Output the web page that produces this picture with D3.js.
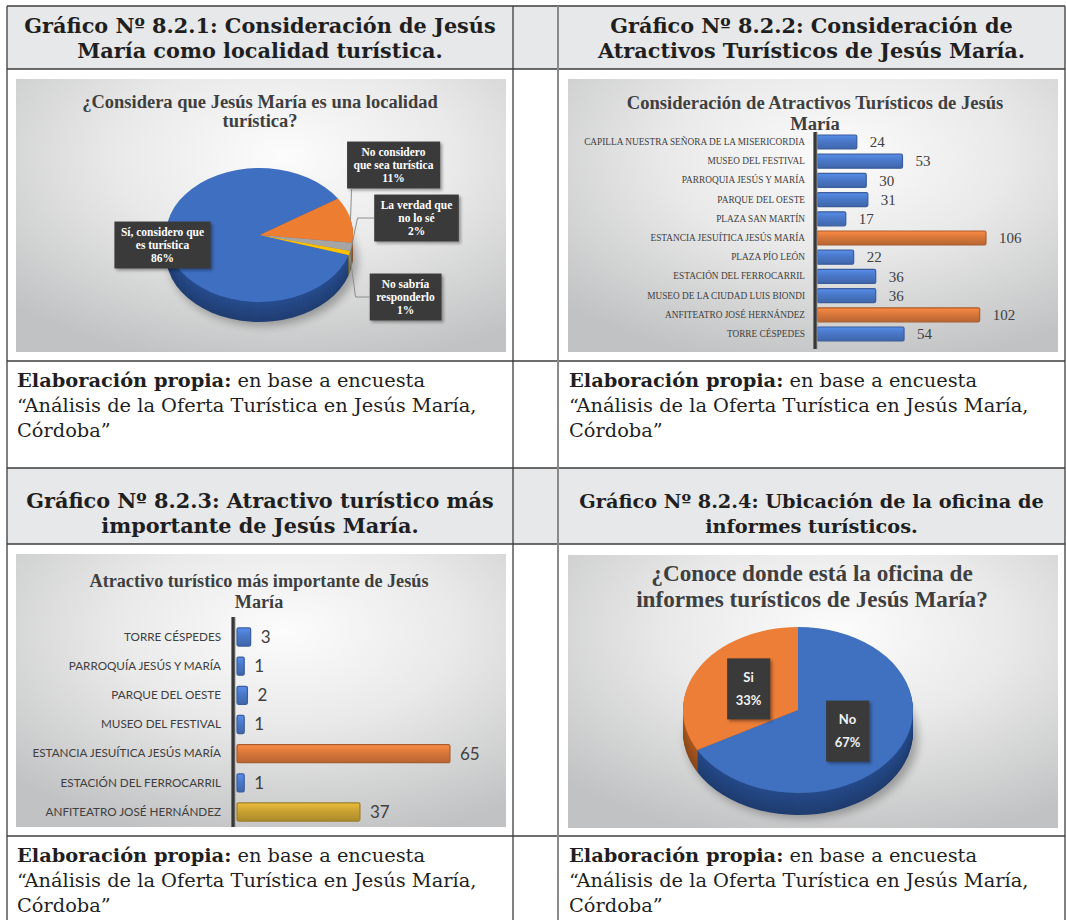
<!DOCTYPE html>
<meta charset="utf-8">
<title>Gráficos 8.2.1 a 8.2.4 - Jesús María</title>
<script src="https://cdn.jsdelivr.net/npm/d3@7"></script>
<style>
  body { margin: 0; background: #fff; }
  text { font-family: 'Liberation Serif', 'Times New Roman', serif; }
  text.head { font-family: 'DejaVu Serif', serif; font-weight: bold; font-size: 20.8px; fill: #1f1f1f; text-anchor: middle; }
  text.head.small { font-size: 19.3px; }
  text.src { font-family: 'DejaVu Serif', serif; font-size: 19.4px; fill: #1f1f1f; }
  text.ctitle { font-weight: bold; fill: #3f3f3f; text-anchor: middle; }
  text.box1 { font-weight: bold; font-size: 11.5px; fill: #fff; }
  text.box4 { font-family: Lato, 'Open Sans', sans-serif; font-weight: bold; font-size: 13px; fill: #f2f2f2; }
  text.cat2 { font-family: 'Liberation Serif', serif; font-size: 9.3px; fill: #404040; }
  text.val2 { font-size: 15px; fill: #404040; }
  text.cat3 { font-family: Lato, 'Open Sans', sans-serif; font-size: 11.7px; fill: #404040; }
  text.val3 { font-family: Lato, 'Open Sans', sans-serif; font-size: 17px; fill: #404040; }
</style>
<div id="chart"></div>
<script>

// ---- data ----
var headers = [
  ["Gráfico Nº 8.2.1: Consideración de Jesús", "María como localidad turística."],
  ["Gráfico Nº 8.2.2: Consideración de", "Atractivos Turísticos de Jesús María."],
  ["Gráfico Nº 8.2.3: Atractivo turístico más", "importante de Jesús María."],
  ["Gráfico Nº 8.2.4: Ubicación de la oficina de", "informes turísticos."]
];
var chartTitles = [
  ["¿Considera que Jesús María es una localidad", "turística?"],
  ["Consideración de Atractivos Turísticos de Jesús", "María"],
  ["Atractivo turístico más importante de Jesús", "María"],
  ["¿Conoce donde está la oficina de", "informes turísticos de Jesús María?"]
];
var sourceBold = "Elaboración propia:";
var sourceLines = [" en base a encuesta", "“Análisis de la Oferta Turística en Jesús María,", "Córdoba”"];

var pie1Labels = ["Sí, considero que\nes turística", "No considero\nque sea turística", "La verdad que\nno lo sé", "No sabría\nresponderlo"];
var pie1Values = [86, 11, 2, 1];

var bar2Categories = ["CAPILLA NUESTRA SEÑORA DE LA MISERICORDIA", "MUSEO DEL FESTIVAL", "PARROQUIA JESÚS Y MARÍA",
  "PARQUE DEL OESTE", "PLAZA SAN MARTÍN", "ESTANCIA JESUÍTICA JESÚS MARÍA", "PLAZA PÍO LEÓN",
  "ESTACIÓN DEL FERROCARRIL", "MUSEO DE LA CIUDAD LUIS BIONDI", "ANFITEATRO JOSÉ HERNÁNDEZ", "TORRE CÉSPEDES"];
var bar2Values = [24, 53, 30, 31, 17, 106, 22, 36, 36, 102, 54];

var bar3Categories = ["TORRE CÉSPEDES", "PARROQUÍA JESÚS Y MARÍA", "PARQUE DEL OESTE", "MUSEO DEL FESTIVAL",
  "ESTANCIA JESUÍTICA JESÚS MARÍA", "ESTACIÓN DEL FERROCARRIL", "ANFITEATRO JOSÉ HERNÁNDEZ"];
var bar3Values = [3, 1, 2, 1, 65, 1, 37];

var pie4Labels = ["No", "Si"];
var pie4Values = [67, 33];

// ---- styles ----
var pie1Colors = ["#3f6fc1", "#ed7d31", "#a5a5a5", "#ffc000"];
var pie1Sides  = ["#2a5196", "#b85a1e", "#7c7c7c", "#c49300"];
var pie4Colors = ["#4070c0", "#ec7e38"];
var pie4Sides  = ["#284f92", "#b45d22"];
var bar2Colors = ["#4a78c8", "#4a78c8", "#4a78c8", "#4a78c8", "#4a78c8", "#d8773b", "#4a78c8", "#4a78c8", "#4a78c8", "#d8773b", "#4a78c8"];
var bar3Colors = ["#4a78c8", "#4a78c8", "#4a78c8", "#4a78c8", "#d8773b", "#4a78c8", "#c9a232"];

// ---- layout ----
var colX = [7, 513, 558, 1065];
var rowY = [6, 69, 361, 468, 544, 836, 940];
var frames = [
  {x: 16, y: 79, w: 490, h: 273},
  {x: 568, y: 79, w: 490, h: 273},
  {x: 16, y: 554, w: 490, h: 273},
  {x: 568, y: 555, w: 490, h: 273}
];

var svg = d3.select("#chart").append("svg")
  .attr("width", 1066)
  .attr("height", 920);

var defs = svg.append("defs");

var bg = defs.append("radialGradient").attr("id", "bg")
  .attr("cx", "55%").attr("cy", "28%").attr("r", "78%");
bg.append("stop").attr("offset", "0%").attr("stop-color", "#fcfcfc");
bg.append("stop").attr("offset", "45%").attr("stop-color", "#e9e9e9");
bg.append("stop").attr("offset", "100%").attr("stop-color", "#c1c2c3");

var blur = defs.append("filter").attr("id", "blur")
  .attr("x", "-30%").attr("y", "-30%").attr("width", "160%").attr("height", "160%");
blur.append("feGaussianBlur").attr("stdDeviation", 4);

var soft = defs.append("filter").attr("id", "soft")
  .attr("x", "-30%").attr("y", "-30%").attr("width", "160%").attr("height", "160%");
soft.append("feGaussianBlur").attr("stdDeviation", 1.5);

function barGradient(c) {
  var id = "g" + c.replace("#", "");
  if (!defs.select("#" + id).empty()) return id;
  var g = defs.append("linearGradient").attr("id", id)
    .attr("x1", 0).attr("y1", 0).attr("x2", 0).attr("y2", 1);
  g.append("stop").attr("offset", "0%").attr("stop-color", d3.rgb(c).brighter(0.45));
  g.append("stop").attr("offset", "45%").attr("stop-color", c);
  g.append("stop").attr("offset", "100%").attr("stop-color", d3.rgb(c).darker(0.45));
  return id;
}

// ---- table ----
[0, 3].forEach(function(r) {
  svg.append("rect")
    .attr("x", colX[0]).attr("y", rowY[r])
    .attr("width", colX[3] - colX[0]).attr("height", rowY[r + 1] - rowY[r])
    .attr("fill", "#e7e8ea");
});

rowY.forEach(function(y) {
  svg.append("line")
    .attr("x1", colX[0]).attr("x2", colX[3])
    .attr("y1", y).attr("y2", y)
    .attr("stroke", "#3d3d3d").attr("stroke-width", 1.3);
});
colX.forEach(function(x, i) {
  svg.append("line")
    .attr("x1", x).attr("x2", x)
    .attr("y1", rowY[0]).attr("y2", rowY[6])
    .attr("stroke", i == 2 ? "#8a8a8a" : "#3d3d3d")
    .attr("stroke-width", i == 2 ? 2 : 1.3);
});

// headers
var headPos = [
  {x: (colX[0] + colX[1]) / 2, y: rowY[0] + 27},
  {x: (colX[2] + colX[3]) / 2, y: rowY[0] + 27},
  {x: (colX[0] + colX[1]) / 2, y: rowY[3] + 40},
  {x: (colX[2] + colX[3]) / 2, y: rowY[3] + 40}
];
headers.forEach(function(h, i) {
  var t = svg.append("text").attr("class", i == 3 ? "head small" : "head");
  h.forEach(function(s, j) {
    t.append("tspan").attr("x", headPos[i].x).attr("y", headPos[i].y + j * 25).text(s);
  });
});

// source notes
[[colX[0] + 10, rowY[2]], [colX[2] + 11, rowY[2]], [colX[0] + 10, rowY[5]], [colX[2] + 11, rowY[5]]].forEach(function(p) {
  var t = svg.append("text").attr("class", "src");
  var l1 = t.append("tspan").attr("x", p[0]).attr("y", p[1] + 26);
  l1.append("tspan").attr("font-weight", "bold").text(sourceBold);
  l1.append("tspan").text(sourceLines[0]);
  t.append("tspan").attr("x", p[0]).attr("y", p[1] + 51).text(sourceLines[1]);
  t.append("tspan").attr("x", p[0]).attr("y", p[1] + 76).text(sourceLines[2]);
});

// chart frames
var charts = frames.map(function(f, i) {
  var g = svg.append("g").attr("transform", "translate(" + f.x + "," + f.y + ")");
  g.append("rect").attr("width", f.w).attr("height", f.h).attr("fill", "url(#bg)");
  return g;
});

function chartTitle(g, lines, cx, y0, size, lh) {
  var t = g.append("text").attr("class", "ctitle").style("font-size", size + "px");
  lines.forEach(function(s, j) {
    t.append("tspan").attr("x", cx).attr("y", y0 + j * lh).text(s);
  });
}

// dark data label box, returns the box rect
function labelBox(g, cx, cy, lines, cls, lh, padX, padY) {
  var box = g.append("g");
  var sh = box.append("rect").attr("fill", "#000").attr("opacity", 0.35).attr("filter", "url(#soft)");
  var r = box.append("rect").attr("fill", "#3a3a3a");
  var t = box.append("text").attr("class", cls).attr("text-anchor", "middle");
  lines.forEach(function(s, j) {
    t.append("tspan").attr("x", cx)
      .attr("y", cy + (j - (lines.length - 1) / 2) * lh)
      .attr("dy", "0.35em").text(s);
  });
  var bb = t.node().getBBox();
  var b = {x: bb.x - padX, y: cy - (lines.length - 1) / 2 * lh - lh / 2 - padY,
           w: bb.width + 2 * padX, h: (lines.length) * lh + 2 * padY};
  r.attr("x", b.x).attr("y", b.y).attr("width", b.w).attr("height", b.h);
  sh.attr("x", b.x + 2).attr("y", b.y + 2).attr("width", b.w).attr("height", b.h);
  return b;
}

// 3D looking pie: side built from stacked darker layers, then the top face
function pie3d(g, values, colors, sides, cx, cy, rx, ry, depth, start) {
  var pie = d3.pie().sort(null).startAngle(start).endAngle(start + 2 * Math.PI);
  var arcs = pie(values);
  var arc = d3.arc().innerRadius(0).outerRadius(rx);

  g.append("ellipse")
    .attr("cx", cx + 4).attr("cy", cy + depth + 6)
    .attr("rx", rx * 1.01).attr("ry", ry * 0.97)
    .attr("fill", "#000").attr("opacity", 0.28).attr("filter", "url(#blur)");

  for (var k = depth; k > 0; k--) {
    var shade = 0.15 + 0.6 * k / depth;
    g.append("g")
      .attr("transform", "translate(" + cx + "," + (cy + k) + ") scale(1," + (ry / rx) + ")")
      .selectAll("path").data(arcs).join("path")
      .attr("d", arc)
      .attr("fill", function(d, i) { return d3.rgb(sides[i]).darker(shade); });
  }
  g.append("g")
    .attr("transform", "translate(" + cx + "," + cy + ") scale(1," + (ry / rx) + ")")
    .selectAll("path").data(arcs).join("path")
    .attr("d", arc)
    .attr("fill", function(d, i) { return colors[i]; });
  return arcs;
}

// point on the ellipse rim at the middle of a slice
function rimPoint(a, cx, cy, rx, ry) {
  var m = (a.startAngle + a.endAngle) / 2;
  return [cx + rx * Math.sin(m), cy - ry * Math.cos(m)];
}

// ---- chart 1: pie ----
(function() {
  var g = charts[0];
  chartTitle(g, chartTitles[0], 244, 29, 18.5, 18.5);
  var cx = 243.5, cy = 156, rx = 93.5, ry = 67, depth = 20;
  var arcs = pie3d(g, pie1Values, pie1Colors, pie1Sides, cx, cy, rx, ry, depth, 107.4 * Math.PI / 180);
  // label placement relative to the pie centre (as placed by hand in the original)
  var place = [[-97, 10], [134, -70], [157, -17], [146, 62]];
  pie1Values.forEach(function(v, i) {
    var lines = pie1Labels[i].split("\n").concat([v + "%"]);
    var b = labelBox(g, cx + place[i][0], cy + place[i][1], lines, "box1", 13.3, 6.5, 3.5);
    if (i == 0) return;
    var e = rimPoint(arcs[i], cx, cy, rx, ry);
    var pts = i == 1 ? [[e[0] + 1, b.y + b.h], e]
                     : [[b.x, b.y + b.h / 2], [e[0] + 6, b.y + b.h / 2], e];
    g.append("path")
      .attr("d", d3.line()(pts))
      .attr("fill", "none").attr("stroke", "#8c8c8c").attr("stroke-width", 1);
  });
})();

// ---- bar charts ----
function drawBars(g, cats, vals, colors, o) {
  var y = d3.scaleBand().domain(cats).range(o.yRange)
    .paddingInner(o.pad).paddingOuter(o.pad / 2);
  var x = d3.scaleLinear().domain([0, o.max]).range([0, o.width]);
  var x0 = o.axisX + o.gap0;

  g.append("g")
    .attr("transform", "translate(" + o.axisX + ",0)")
    .call(d3.axisLeft(y).tickSize(0).tickPadding(o.tickPad))
    .call(function(a) { a.select(".domain").remove(); })
    .selectAll("text").attr("class", o.catClass);

  g.selectAll("rect.bar").data(vals).join("rect")
    .attr("class", "bar")
    .attr("x", x0)
    .attr("y", function(d, i) { return y(cats[i]); })
    .attr("width", function(d) { return x(d) + o.cap; })
    .attr("height", y.bandwidth())
    .attr("rx", 1.5)
    .attr("fill", function(d, i) { return "url(#" + barGradient(colors[i]) + ")"; })
    .attr("stroke", function(d, i) { return d3.rgb(colors[i]).darker(0.7); })
    .attr("stroke-width", 1.2);

  g.selectAll("text.val").data(vals).join("text")
    .attr("class", "val " + o.valClass)
    .attr("x", function(d) { return x0 + x(d) + o.cap + o.valGap; })
    .attr("y", function(d, i) { return y(cats[i]) + y.bandwidth() / 2; })
    .attr("dy", "0.35em")
    .text(function(d) { return d; });

  g.append("line")
    .attr("x1", o.axisX + 1.5).attr("x2", o.axisX + 1.5)
    .attr("y1", o.axisTop).attr("y2", o.axisBottom)
    .attr("stroke", "#9a9a9a").attr("stroke-width", 2);
  g.append("line")
    .attr("x1", o.axisX).attr("x2", o.axisX)
    .attr("y1", o.axisTop).attr("y2", o.axisBottom)
    .attr("stroke", "#383838").attr("stroke-width", 3.2);
}

// ---- chart 2 ----
chartTitle(charts[1], chartTitles[1], 247, 30, 18.6, 21);
drawBars(charts[1], bar2Categories, bar2Values, bar2Colors, {
  yRange: [53.4, 264.6], pad: 0.27, max: 120, width: 189,
  axisX: 247, gap0: 2, cap: 2, tickPad: 10, valGap: 13,
  axisTop: 53, axisBottom: 270, catClass: "cat2", valClass: "val2"
});

// ---- chart 3 ----
chartTitle(charts[2], chartTitles[2], 243, 33, 18.2, 20.5);
drawBars(charts[2], bar3Categories, bar3Values, bar3Colors, {
  yRange: [68.4, 272.6], pad: 0.38, max: 70, width: 225,
  axisX: 217, gap0: 4, cap: 4, tickPad: 12, valGap: 10,
  axisTop: 63, axisBottom: 273, catClass: "cat3", valClass: "val3"
});

// ---- chart 4: pie ----
(function() {
  var g = charts[3];
  chartTitle(g, chartTitles[3], 244, 26, 23.2, 26);
  var cx = 230, cy = 155, rx = 115, ry = 83, depth = 22;
  var arcs = pie3d(g, pie4Values, pie4Colors, pie4Sides, cx, cy, rx, ry, depth, 0);
  var inner = d3.arc().innerRadius(rx * 0.5).outerRadius(rx * 0.5);
  arcs.forEach(function(a, i) {
    var c = inner.centroid(a);
    labelBox(g, cx + c[0], cy + c[1] * ry / rx, [pie4Labels[i], pie4Values[i] + "%"], "box4", 23, 8.5, 7.5);
  });
})();

</script>
